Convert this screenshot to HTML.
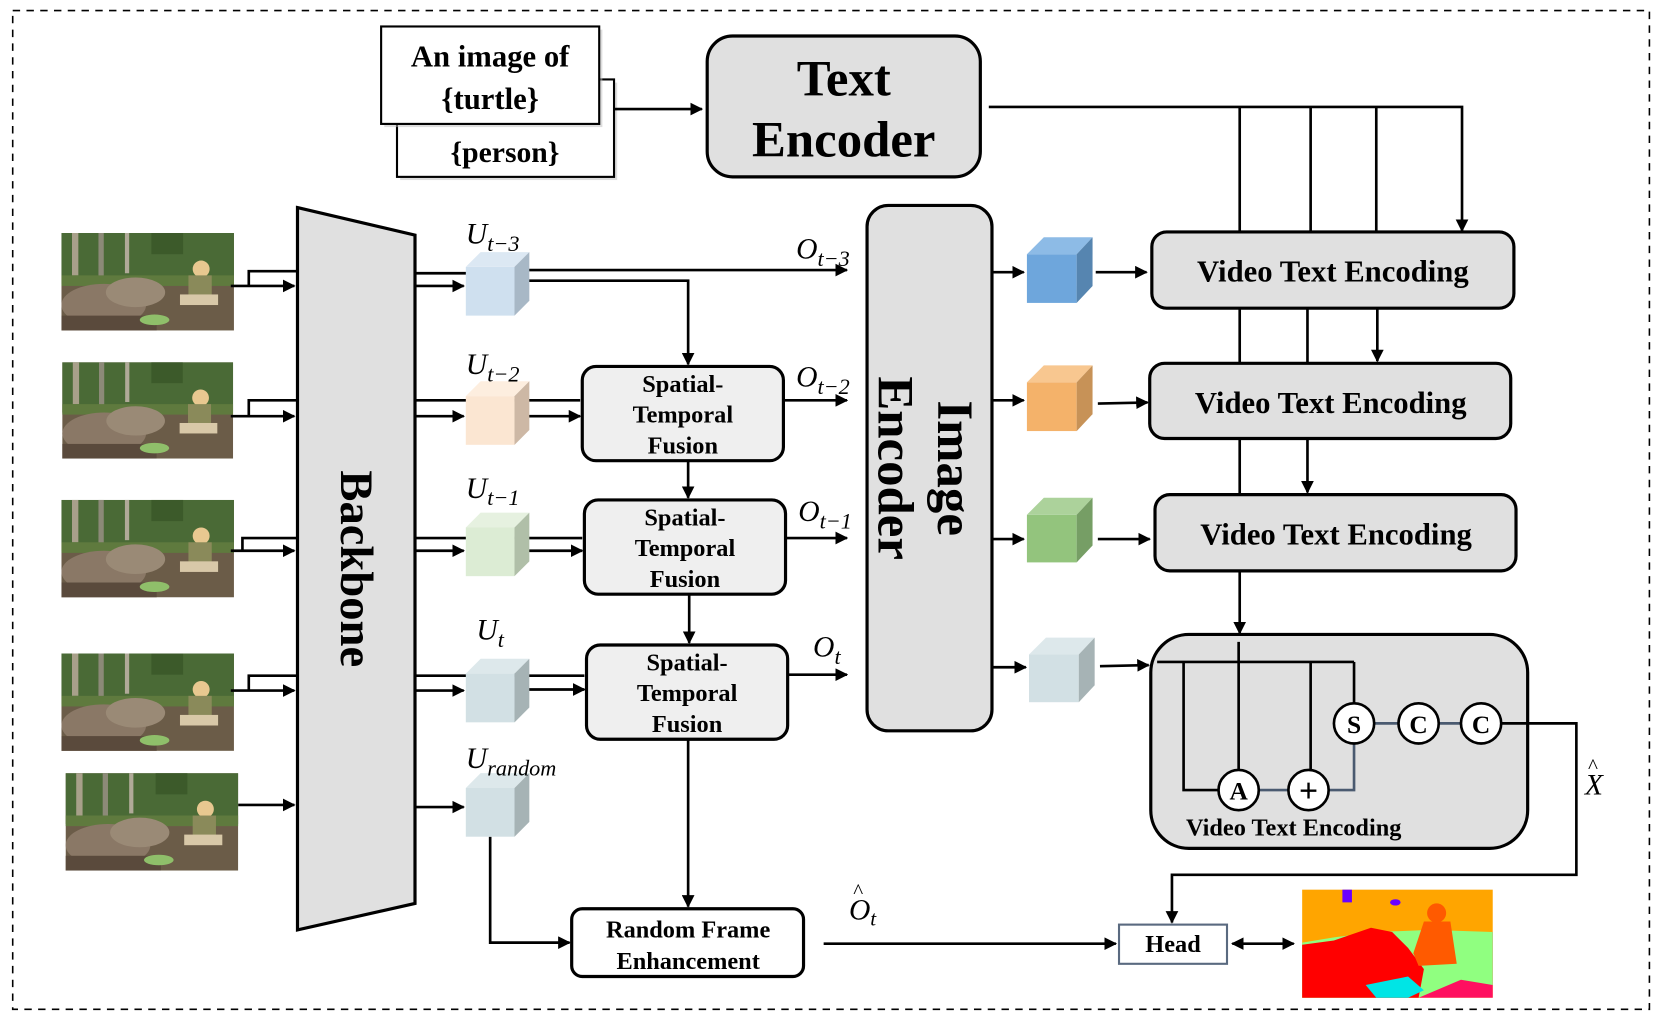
<!DOCTYPE html>
<html><head><meta charset="utf-8"><style>html,body{margin:0;padding:0;background:#fff}svg{display:block}</style></head>
<body>
<svg width="1660" height="1021" viewBox="0 0 1568 964" preserveAspectRatio="none" xmlns="http://www.w3.org/2000/svg" font-family="Liberation Serif, serif">
<defs>
<marker id="a" viewBox="0 0 10 10" refX="9" refY="5" markerWidth="12" markerHeight="12" markerUnits="userSpaceOnUse" orient="auto-start-reverse"><path d="M0,0L10,5L0,10z" fill="#000"/></marker>
<symbol id="ph" viewBox="0 0 163 92">
<rect width="163" height="92" fill="#6b5c48"/>
<rect width="163" height="48" fill="#4a6a36"/>
<rect x="10" y="0" width="6" height="40" fill="#a8a08a"/><rect x="35" y="0" width="5" height="42" fill="#8c8a78"/><rect x="60" y="0" width="4" height="38" fill="#b0aa98"/><rect x="85" y="0" width="30" height="20" fill="#3c5a2a"/>
<rect y="40" width="163" height="10" fill="#5f7a3e"/>
<ellipse cx="40" cy="68" rx="40" ry="20" fill="#8a7866"/><ellipse cx="70" cy="56" rx="28" ry="14" fill="#9a8a76"/>
<rect x="0" y="78" width="90" height="14" fill="#5a4a3c"/>
<ellipse cx="88" cy="82" rx="14" ry="5" fill="#8fbf6a"/>
<ellipse cx="132" cy="34" rx="8" ry="8" fill="#e8c890"/><rect x="120" y="40" width="22" height="22" fill="#8a8a5a"/><rect x="112" y="58" width="36" height="10" fill="#d8c8a8"/>
</symbol>
</defs>
<rect x="12" y="10" width="1546" height="943" fill="none" stroke="#000" stroke-width="1.5" stroke-dasharray="7,6"/>

<!-- prompts -->
<rect x="378" y="78" width="205" height="92" fill="#bbb" opacity="0.5"/>
<rect x="375" y="75" width="205" height="92" fill="#fff" stroke="#000" stroke-width="2"/>
<text x="477" y="153" font-size="28" font-weight="bold" text-anchor="middle">{person}</text>
<rect x="363" y="28" width="206" height="92" fill="#bbb" opacity="0.5"/>
<rect x="360" y="25" width="206" height="92" fill="#fff" stroke="#000" stroke-width="2"/>
<text x="463" y="63" font-size="29" font-weight="bold" text-anchor="middle">An image of</text>
<text x="463" y="103" font-size="29" font-weight="bold" text-anchor="middle">{turtle}</text>
<line x1="580" y1="103" x2="663" y2="103" stroke="#000" stroke-width="2.5" marker-end="url(#a)"/>

<rect x="668" y="34" width="258" height="133" rx="24" fill="#e0e0e0" stroke="#000" stroke-width="3"/>
<text x="797" y="90" font-size="48" font-weight="bold" text-anchor="middle">Text</text>
<text x="797" y="148" font-size="48" font-weight="bold" text-anchor="middle">Encoder</text>

<g stroke="#000" stroke-width="2.5" fill="none">
<polyline points="934,101 1381,101 1381,218" marker-end="url(#a)"/>
<line x1="1171" y1="101" x2="1171" y2="219"/><line x1="1238" y1="101" x2="1238" y2="219"/><line x1="1300" y1="101" x2="1300" y2="219"/>
<line x1="1171" y1="291" x2="1171" y2="343"/><line x1="1235" y1="291" x2="1235" y2="343"/><line x1="1301" y1="291" x2="1301" y2="341" marker-end="url(#a)"/>
<line x1="1171" y1="414" x2="1171" y2="467"/><line x1="1235" y1="414" x2="1235" y2="465" marker-end="url(#a)"/>
<line x1="1171" y1="539" x2="1171" y2="598" marker-end="url(#a)"/>
</g>

<g fill="#e0e0e0" stroke="#000" stroke-width="3">
<rect x="1088" y="219" width="342" height="72" rx="14"/>
<rect x="1086" y="343" width="341" height="71" rx="14"/>
<rect x="1091" y="467" width="341" height="72" rx="14"/>
<rect x="1087" y="599" width="356" height="202" rx="36"/>
</g>
<g font-size="29" font-weight="bold" text-anchor="middle">
<text x="1259" y="266">Video Text Encoding</text>
<text x="1257" y="390">Video Text Encoding</text>
<text x="1262" y="514">Video Text Encoding</text>
</g>

<!-- inner -->
<g stroke="#000" stroke-width="2.5" fill="none">
<line x1="1093" y1="625" x2="1279" y2="625"/>
<polyline points="1118,625 1118,746 1151,746"/>
<line x1="1170" y1="606" x2="1170" y2="727"/>
<line x1="1238" y1="625" x2="1238" y2="727"/>
<line x1="1279" y1="625" x2="1279" y2="664"/>
<polyline points="1279,702 1279,746 1255,746" stroke="#4a5a70"/>
<line x1="1189" y1="746" x2="1217" y2="746" stroke="#4a5a70"/>
<line x1="1298" y1="683" x2="1321" y2="683" stroke="#4a5a70"/>
<line x1="1359" y1="683" x2="1380" y2="683" stroke="#4a5a70"/>
<polyline points="1418,683 1489,683 1489,826 1107,826 1107,871" stroke="#000" marker-end="url(#a)"/>
</g>
<g fill="#fff" stroke="#000" stroke-width="2.5">
<circle cx="1170" cy="746" r="19"/><circle cx="1236" cy="746" r="19"/><circle cx="1279" cy="683" r="19"/><circle cx="1340" cy="683" r="19"/><circle cx="1399" cy="683" r="19"/>
</g>
<g font-size="24" font-weight="bold" text-anchor="middle">
<text x="1170" y="755">A</text><text x="1236" y="757" font-size="32">+</text><text x="1279" y="692">S</text><text x="1340" y="692">C</text><text x="1399" y="692">C</text>
</g>
<text x="1222" y="789" font-size="23" font-weight="bold" text-anchor="middle">Video Text Encoding</text>
<text x="1497" y="750" font-size="28" font-style="italic">X</text><text x="1500" y="730" font-size="20">^</text>

<!-- head -->
<rect x="1057" y="873" width="102" height="37" fill="#fff" stroke="#5a6a80" stroke-width="2"/>
<text x="1108" y="899" font-size="23" font-weight="bold" text-anchor="middle">Head</text>
<line x1="1164" y1="891" x2="1222" y2="891" stroke="#000" stroke-width="2.5" marker-start="url(#a)" marker-end="url(#a)"/>
<line x1="778" y1="891" x2="1054" y2="891" stroke="#000" stroke-width="2.5" marker-end="url(#a)"/>
<text x="802" y="868" font-size="28" font-style="italic">O</text><text x="806" y="848" font-size="20">^</text><text x="822" y="874" font-size="20" font-style="italic">t</text>

<!-- seg -->
<g>
<rect x="1230" y="840" width="180" height="102" fill="#ffa500"/>
<rect x="1340" y="880" width="70" height="62" fill="#ff1060"/>
<path d="M1230,890 L1260,885 1300,880 1350,878 1410,880 1410,930 1380,925 1340,942 1230,942z" fill="#90ff80"/>
<path d="M1230,892 L1260,888 1295,876 1315,880 1330,895 1345,915 1340,942 1230,942z" fill="#ff0000"/>
<path d="M1290,930 L1330,922 1345,935 1330,942 1300,942z" fill="#00e5e5"/>
<circle cx="1357" cy="862" r="9" fill="#ff5a00"/><path d="M1345,870 L1370,870 1376,910 1340,912 1335,900z" fill="#ff5a00"/>
<rect x="1268" y="840" width="9" height="12" fill="#6a00ff"/><ellipse cx="1318" cy="852" rx="5" ry="3" fill="#6a00ff"/>
</g>

<!-- random frame enhancement -->
<rect x="540" y="858" width="219" height="64" rx="10" fill="#fff" stroke="#000" stroke-width="3"/>
<text x="650" y="885" font-size="23" font-weight="bold" text-anchor="middle">Random Frame</text>
<text x="650" y="915" font-size="23" font-weight="bold" text-anchor="middle">Enhancement</text>
<polyline points="463,790 463,890 538,890" stroke="#000" stroke-width="2.5" fill="none" marker-end="url(#a)"/>
<line x1="650" y1="697" x2="650" y2="856" stroke="#000" stroke-width="2.5" marker-end="url(#a)"/>

<!-- image encoder -->
<rect x="819" y="194" width="118" height="496" rx="20" fill="#e0e0e0" stroke="#000" stroke-width="3"/>
<g transform="translate(878,442) rotate(90)" font-size="48" font-weight="bold" text-anchor="middle">
<text x="0" y="-8">Image</text><text x="0" y="48">Encoder</text>
</g>

<!-- backbone -->
<polygon points="281,196 392,222 392,853 281,878" fill="#e0e0e0" stroke="#000" stroke-width="3"/>
<g transform="translate(336,537) rotate(90)"><text x="0" y="14" font-size="44" font-weight="bold" text-anchor="middle">Backbone</text></g>

<!-- photos -->
<use href="#ph" x="58" y="220" width="163" height="92"/>
<use href="#ph" x="58" y="342" width="163" height="91"/>
<use href="#ph" x="58" y="472" width="163" height="92"/>
<use href="#ph" x="58" y="617" width="163" height="92"/>
<use href="#ph" x="62" y="730" width="163" height="92"/>
<g stroke="#000" stroke-width="2.5" fill="none">
<line x1="218" y1="270" x2="278" y2="270" marker-end="url(#a)"/><polyline points="235,270 235,256 281,256"/>
<line x1="218" y1="393" x2="278" y2="393" marker-end="url(#a)"/><polyline points="235,393 235,378 281,378"/>
<line x1="218" y1="520" x2="278" y2="520" marker-end="url(#a)"/><polyline points="229,520 229,508 281,508"/>
<line x1="218" y1="652" x2="278" y2="652" marker-end="url(#a)"/><polyline points="235,652 235,638 281,638"/>
<line x1="225" y1="760" x2="278" y2="760" marker-end="url(#a)"/>
<!-- backbone outputs -->
<line x1="392" y1="258" x2="445" y2="258"/><line x1="392" y1="270" x2="438" y2="270" marker-end="url(#a)"/>
<line x1="392" y1="378" x2="548" y2="378"/><line x1="392" y1="393" x2="438" y2="393" marker-end="url(#a)"/>
<line x1="392" y1="508" x2="550" y2="508"/><line x1="392" y1="520" x2="438" y2="520" marker-end="url(#a)"/>
<line x1="392" y1="638" x2="552" y2="638"/><line x1="392" y1="652" x2="438" y2="652" marker-end="url(#a)"/>
<line x1="392" y1="762" x2="438" y2="762" marker-end="url(#a)"/>
<line x1="495" y1="255" x2="800" y2="255" marker-end="url(#a)"/>
<polyline points="495,265 650,265 650,344" marker-end="url(#a)"/>
<line x1="494" y1="393" x2="548" y2="393" marker-end="url(#a)"/>
<line x1="494" y1="520" x2="550" y2="520" marker-end="url(#a)"/>
<line x1="494" y1="651" x2="552" y2="651" marker-end="url(#a)"/>
<line x1="650" y1="435" x2="650" y2="470" marker-end="url(#a)"/>
<line x1="651" y1="561" x2="651" y2="607" marker-end="url(#a)"/>
<line x1="740" y1="378" x2="800" y2="378" marker-end="url(#a)"/>
<line x1="742" y1="508" x2="800" y2="508" marker-end="url(#a)"/>
<line x1="744" y1="637" x2="800" y2="637" marker-end="url(#a)"/>
<line x1="937" y1="257" x2="967" y2="257" marker-end="url(#a)"/>
<line x1="937" y1="378" x2="967" y2="378" marker-end="url(#a)"/>
<line x1="937" y1="509" x2="967" y2="509" marker-end="url(#a)"/>
<line x1="937" y1="630" x2="969" y2="630" marker-end="url(#a)"/>
<line x1="1035" y1="257" x2="1083" y2="257" marker-end="url(#a)"/>
<line x1="1037" y1="381" x2="1084" y2="380" marker-end="url(#a)"/>
<line x1="1037" y1="509" x2="1086" y2="509" marker-end="url(#a)"/>
<line x1="1039" y1="629" x2="1085" y2="628" marker-end="url(#a)"/>
</g>

<!-- cubes left -->
<g>
<rect x="440" y="252" width="46" height="46" fill="#cfe0ef"/><polygon points="440,252 454,238 500,238 486,252" fill="#dce8f3"/><polygon points="486,252 500,238 500,284 486,298" fill="#a8b8c6"/>
<rect x="440" y="374" width="46" height="46" fill="#fbe6d2"/><polygon points="440,374 454,360 500,360 486,374" fill="#fdeedf"/><polygon points="486,374 500,360 500,406 486,420" fill="#cdb8a5"/>
<rect x="440" y="498" width="46" height="46" fill="#dcecd4"/><polygon points="440,498 454,484 500,484 486,498" fill="#e6f1e0"/><polygon points="486,498 500,484 500,530 486,544" fill="#b0bfa8"/>
<rect x="440" y="636" width="46" height="46" fill="#d2e0e4"/><polygon points="440,636 454,622 500,622 486,636" fill="#dde8eb"/><polygon points="486,636 500,622 500,668 486,682" fill="#a6b3b5"/>
<rect x="440" y="744" width="46" height="46" fill="#d2e0e4"/><polygon points="440,744 454,730 500,730 486,744" fill="#dde8eb"/><polygon points="486,744 500,730 500,776 486,790" fill="#a6b3b5"/>
<!-- right cubes -->
<rect x="970" y="240" width="47" height="46" fill="#6ea6dc"/><polygon points="970,240 986,224 1032,224 1017,240" fill="#8dbbe6"/><polygon points="1017,240 1032,224 1032,270 1017,286" fill="#5685b0"/>
<rect x="970" y="361" width="47" height="46" fill="#f4b26a"/><polygon points="970,361 986,345 1032,345 1017,361" fill="#f8c790"/><polygon points="1017,361 1032,345 1032,391 1017,407" fill="#c79257"/>
<rect x="970" y="486" width="47" height="45" fill="#93c47d"/><polygon points="970,486 986,470 1032,470 1017,486" fill="#acd29b"/><polygon points="1017,486 1032,470 1032,515 1017,531" fill="#769e65"/>
<rect x="972" y="618" width="47" height="45" fill="#d2e0e4"/><polygon points="972,618 988,602 1034,602 1019,618" fill="#dde8eb"/><polygon points="1019,618 1034,602 1034,647 1019,663" fill="#a6b3b5"/>
</g>

<!-- STF boxes -->
<g fill="#efefef" stroke="#000" stroke-width="3">
<rect x="550" y="346" width="190" height="89" rx="13"/>
<rect x="552" y="472" width="190" height="89" rx="13"/>
<rect x="554" y="609" width="190" height="89" rx="13"/>
</g>
<g font-size="23" font-weight="bold" text-anchor="middle">
<text x="645" y="370">Spatial-</text><text x="645" y="399">Temporal</text><text x="645" y="428">Fusion</text>
<text x="647" y="496">Spatial-</text><text x="647" y="525">Temporal</text><text x="647" y="554">Fusion</text>
<text x="649" y="633">Spatial-</text><text x="649" y="662">Temporal</text><text x="649" y="691">Fusion</text>
</g>

<!-- labels -->
<g font-size="28" font-style="italic">
<text x="440" y="230">U<tspan font-size="21" dy="7">t−3</tspan></text>
<text x="440" y="353">U<tspan font-size="21" dy="7">t−2</tspan></text>
<text x="440" y="470">U<tspan font-size="21" dy="7">t−1</tspan></text>
<text x="450" y="604">U<tspan font-size="21" dy="7">t</tspan></text>
<text x="440" y="725">U<tspan font-size="21" dy="7">random</tspan></text>
<text x="752" y="244">O<tspan font-size="21" dy="7">t−3</tspan></text>
<text x="752" y="365">O<tspan font-size="21" dy="7">t−2</tspan></text>
<text x="754" y="492">O<tspan font-size="21" dy="7">t−1</tspan></text>
<text x="768" y="620">O<tspan font-size="21" dy="7">t</tspan></text>
</g>
</svg>
</body></html>
